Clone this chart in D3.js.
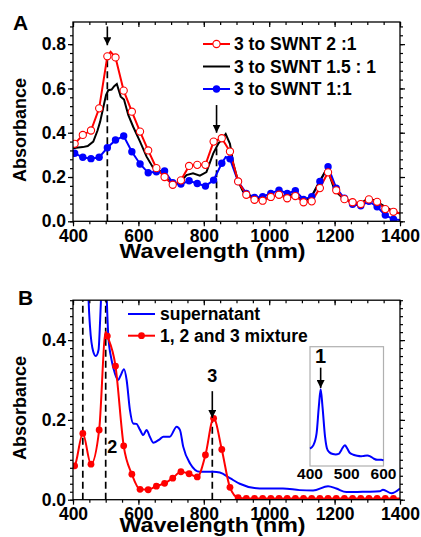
<!DOCTYPE html>
<html>
<head>
<meta charset="utf-8">
<script src="https://cdn.jsdelivr.net/npm/d3@7"></script>
<style>
  body { margin: 0; background: #fff; }
  text { font-family: "Liberation Sans", Arial, sans-serif; font-weight: bold; }
</style>
</head>
<body>
<svg id="fig" width="421" height="537"></svg>
<script>

// ---- panel A data: [wavelength nm, absorbance] ----
// markers sit on the 405 + 25k points, the others are line only
const ratio2to1 = [
  [400, 0.34], [405, 0.35], [430, 0.39], [455, 0.41], [480, 0.51], [505, 0.745], [515, 0.765],
  [530, 0.74], [555, 0.59], [580, 0.495], [605, 0.405], [630, 0.32], [655, 0.24], [680, 0.20],
  [705, 0.165], [730, 0.185], [755, 0.25], [780, 0.255], [805, 0.255], [830, 0.36], [855, 0.375],
  [880, 0.315], [905, 0.18], [930, 0.12], [955, 0.097], [980, 0.093], [1005, 0.11], [1030, 0.12],
  [1055, 0.104], [1080, 0.114], [1105, 0.086], [1130, 0.09], [1155, 0.15], [1180, 0.221],
  [1205, 0.14], [1230, 0.10], [1255, 0.086], [1280, 0.078], [1305, 0.099], [1330, 0.088],
  [1355, 0.055], [1380, 0.043], [1400, 0.036]
]

const ratio15to1 = [
  [400, 0.33], [416, 0.333], [430, 0.335], [445, 0.34], [462, 0.36], [475, 0.41], [483, 0.45],
  [495, 0.53], [501, 0.57], [508, 0.592], [518, 0.595], [526, 0.61], [534, 0.62], [546, 0.563],
  [556, 0.55], [569, 0.48], [584, 0.427], [605, 0.36], [625, 0.292], [646, 0.24], [667, 0.226],
  [686, 0.194], [706, 0.167], [727, 0.175], [747, 0.209], [767, 0.217], [788, 0.206], [808, 0.222],
  [829, 0.307], [845, 0.352], [855, 0.37], [867, 0.394], [880, 0.35], [890, 0.262], [905, 0.18],
  [920, 0.134], [946, 0.11], [975, 0.1], [1000, 0.105], [1028, 0.12], [1050, 0.11], [1075, 0.125],
  [1100, 0.095], [1125, 0.1], [1150, 0.17], [1177, 0.24], [1200, 0.14], [1225, 0.105], [1250, 0.09],
  [1278, 0.08], [1300, 0.1], [1322, 0.095], [1350, 0.07], [1380, 0.045], [1400, 0.035]
]

const ratio1to1 = [
  [400, 0.305], [405, 0.307], [430, 0.289], [455, 0.283], [480, 0.289], [505, 0.332], [530, 0.367],
  [555, 0.385], [580, 0.314], [605, 0.259], [630, 0.219], [655, 0.224], [680, 0.227], [705, 0.174],
  [730, 0.168], [755, 0.183], [780, 0.171], [805, 0.159], [830, 0.186], [855, 0.262], [867, 0.29],
  [880, 0.282], [905, 0.18], [930, 0.126], [955, 0.108], [980, 0.111], [1005, 0.126], [1030, 0.141],
  [1055, 0.126], [1080, 0.138], [1105, 0.099], [1130, 0.111], [1155, 0.18], [1180, 0.246],
  [1205, 0.15], [1230, 0.104], [1255, 0.077], [1280, 0.07], [1305, 0.09], [1330, 0.066],
  [1355, 0.028], [1380, 0.009], [1400, 0.006]
]

const legendA = ["3 to SWNT 2 :1", "3 to SWNT 1.5 : 1", "3 to SWNT 1:1"]

// ---- panel B data ----
const supernatant = [
  [400, 0.54], [409, 0.64], [418, 1.02], [424, 1.84], [429, 2.38], [434, 1.84], [441, 0.9],
  [446, 0.55], [452, 0.434], [462, 0.371], [470, 0.36], [478, 0.375], [483, 0.45], [488, 0.55],
  [495, 0.64], [501, 0.55], [508, 0.41], [518, 0.35], [528, 0.317], [538, 0.30], [545, 0.31],
  [556, 0.327], [564, 0.30], [574, 0.225], [584, 0.191], [594, 0.19], [605, 0.175], [615, 0.162],
  [625, 0.175], [635, 0.158], [646, 0.143], [666, 0.152], [676, 0.158], [696, 0.158], [717, 0.183],
  [727, 0.175], [737, 0.133], [758, 0.091], [788, 0.07], [829, 0.07], [849, 0.068], [880, 0.054],
  [910, 0.04], [971, 0.028], [1042, 0.028], [1093, 0.024], [1134, 0.023], [1180, 0.034],
  [1205, 0.028], [1236, 0.019], [1297, 0.02], [1338, 0.021], [1348, 0.025], [1374, 0.016], [1400, 0.028]
]

const mixture = [
  [400, 0.083], [405, 0.085], [430, 0.166], [455, 0.089], [480, 0.175], [500, 0.42], [505, 0.41],
  [530, 0.335], [555, 0.135], [580, 0.064], [605, 0.026], [630, 0.025], [655, 0.034], [680, 0.041],
  [705, 0.054], [730, 0.07], [755, 0.065], [780, 0.057], [805, 0.112], [830, 0.204], [855, 0.126],
  [880, 0.031], [905, 0.005], [930, 0.003], [955, 0.003], [980, 0.003], [1005, 0.003], [1030, 0.003],
  [1055, 0.003], [1080, 0.003], [1105, 0.003], [1130, 0.003], [1155, 0.003], [1180, 0.003],
  [1205, 0.003], [1230, 0.003], [1255, 0.003], [1280, 0.003], [1305, 0.003], [1330, 0.003],
  [1355, 0.003], [1380, 0.003], [1400, 0.003]
]

const legendB = ["supernatant", "1, 2 and 3 mixture"]

// ticks
const xMajor = [400, 600, 800, 1000, 1200, 1400]
const xMinor = d3.range(400, 1401, 50)
const yMajorA = [0, 0.2, 0.4, 0.6, 0.8]
const yMinorA = d3.range(0, 0.901, 0.04)
const yMajorB = [0, 0.2, 0.4]
const yMinorB = d3.range(0, 0.501, 0.02)
const insetTicks = [400, 500, 600]

// annotations (wavelength, absorbance)
const dashesA = [[505, 0.75], [839, 0.37]]
const arrowsA = [[505, 0.88, 0.795], [839, 0.525, 0.40]]
const dashesB = [[430, 0.5], [500, 0.5], [826, 0.2]]

const isMarker = d => (d[0] - 405) % 25 === 0

const svg = d3.select("#fig")
svg.append("rect").attr("width", 421).attr("height", 537).attr("fill", "#fff")

svg.append("defs").append("marker")
    .attr("id", "head")
    .attr("markerUnits", "userSpaceOnUse")
    .attr("viewBox", "0 0 10 10")
    .attr("refX", 10).attr("refY", 5)
    .attr("markerWidth", 8).attr("markerHeight", 8)
    .attr("orient", "auto")
  .append("path")
    .attr("d", "M0,0 L10,5 L0,10 z")
    .attr("fill", "#000")

// draws the box, ticks on 4 sides, labels
function frame (g, x, y, yMajor, yMinor) {
  const [x0, x1] = x.range()
  const [y0, y1] = y.range()

  const bottom = g.append("g").attr("transform", `translate(0,${y0})`)
  bottom.call(d3.axisBottom(x).tickValues(xMinor).tickSize(3).tickFormat(""))
  bottom.append("g").call(d3.axisBottom(x).tickValues(xMajor).tickSize(5).tickPadding(3).tickFormat(d3.format("d")))

  const top = g.append("g").attr("transform", `translate(0,${y1})`)
  top.call(d3.axisBottom(x).tickValues(xMinor).tickSize(3).tickFormat(""))
  top.append("g").call(d3.axisBottom(x).tickValues(xMajor).tickSize(5).tickFormat(""))

  const left = g.append("g").attr("transform", `translate(${x0},0)`)
  left.call(d3.axisLeft(y).tickValues(yMinor).tickSize(3).tickFormat(""))
  left.append("g").call(d3.axisLeft(y).tickValues(yMajor).tickSize(5).tickPadding(2).tickFormat(d3.format(".1f")))

  const right = g.append("g").attr("transform", `translate(${x1},0)`)
  right.call(d3.axisLeft(y).tickValues(yMinor).tickSize(-3).tickFormat(""))
  right.append("g").call(d3.axisLeft(y).tickValues(yMajor).tickSize(-5).tickFormat(""))

  g.selectAll(".domain").remove()
  g.selectAll(".tick line").attr("stroke", "#000").attr("stroke-width", 1.2)
  g.selectAll(".tick text")
    .attr("fill", "#000")
    .style("font-size", "17.5px")
    .style("font-family", "Liberation Sans, Arial, sans-serif")
    .style("font-weight", "bold")

  g.append("rect")
    .attr("x", x0).attr("y", y1)
    .attr("width", x1 - x0).attr("height", y0 - y1)
    .attr("fill", "none").attr("stroke", "#000").attr("stroke-width", 1.3)
}

function titles (g, x, letter, letterPos, yTitleMid, titleY) {
  const [x0, x1] = x.range()
  g.append("text")
    .attr("x", letterPos[0]).attr("y", letterPos[1])
    .style("font-size", "21px").text(letter)
  g.append("text")
    .attr("transform", `translate(26,${yTitleMid}) rotate(-90)`)
    .attr("text-anchor", "middle")
    .style("font-size", "18px").text("Absorbance")
  g.append("text")
    .attr("x", (x0 + x1) / 2 - 24).attr("y", titleY)
    .attr("textLength", 186).attr("lengthAdjust", "spacingAndGlyphs")
    .attr("text-anchor", "middle")
    .style("font-size", "20px").text("Wavelength (nm)")
}

function clip (id, x, y) {
  const [x0, x1] = x.range()
  const [y0, y1] = y.range()
  svg.select("defs").append("clipPath").attr("id", id)
    .append("rect").attr("x", x0).attr("y", y1).attr("width", x1 - x0).attr("height", y0 - y1)
}

// ================= Panel A =================
const xA = d3.scaleLinear().domain([400, 1400]).range([73, 400])
const yA = d3.scaleLinear().domain([0, 0.9]).range([221.3, 22])
clip("clipA", xA, yA)

const gA = svg.append("g")

// dashed guides + arrows
gA.append("g").selectAll("line")
  .data(dashesA)
  .join("line")
    .attr("x1", d => xA(d[0])).attr("x2", d => xA(d[0]))
    .attr("y1", yA(0)).attr("y2", d => yA(d[1]))
    .attr("stroke", "#000").attr("stroke-width", 1.7).attr("stroke-dasharray", "7,4")

const lineA = d3.line().x(d => xA(d[0])).y(d => yA(d[1]))
const plotA = gA.append("g").attr("clip-path", "url(#clipA)")

plotA.append("path").datum(ratio1to1)
  .attr("d", lineA).attr("fill", "none").attr("stroke", "#0000ff").attr("stroke-width", 2)
plotA.append("path").datum(ratio15to1)
  .attr("d", lineA).attr("fill", "none").attr("stroke", "#000").attr("stroke-width", 2)
plotA.append("path").datum(ratio2to1)
  .attr("d", lineA).attr("fill", "none").attr("stroke", "#ff0000").attr("stroke-width", 2)

plotA.append("g").selectAll("circle")
  .data(ratio1to1.filter(isMarker))
  .join("circle")
    .attr("cx", d => xA(d[0])).attr("cy", d => yA(d[1])).attr("r", 3.7)
    .attr("fill", "#0000ff")

plotA.append("g").selectAll("circle")
  .data(ratio2to1.filter(isMarker))
  .join("circle")
    .attr("cx", d => xA(d[0])).attr("cy", d => yA(d[1])).attr("r", 3.6)
    .attr("fill", "#fff").attr("stroke", "#ff0000").attr("stroke-width", 1.1)

gA.append("g").selectAll("line")
  .data(arrowsA)
  .join("line")
    .attr("x1", d => xA(d[0])).attr("x2", d => xA(d[0]))
    .attr("y1", d => yA(d[1])).attr("y2", d => yA(d[2]))
    .attr("stroke", "#000").attr("stroke-width", 1.6)
    .attr("marker-end", "url(#head)")

frame(gA, xA, yA, yMajorA, yMinorA)
titles(gA, xA, "A", [13, 30], 130, 258)

// legend A
const legA = gA.append("g")
const legRowsA = [44, 66.5, 89]
const colorsA = ["#ff0000", "#000", "#0000ff"]
legA.selectAll("line")
  .data(legendA)
  .join("line")
    .attr("x1", 203).attr("x2", 230)
    .attr("y1", (d, i) => legRowsA[i]).attr("y2", (d, i) => legRowsA[i])
    .attr("stroke", (d, i) => colorsA[i]).attr("stroke-width", 2)
legA.append("circle").attr("cx", 216.5).attr("cy", legRowsA[0]).attr("r", 3.6)
  .attr("fill", "#fff").attr("stroke", "#ff0000").attr("stroke-width", 1.1)
legA.append("circle").attr("cx", 216.5).attr("cy", legRowsA[2]).attr("r", 3.7)
  .attr("fill", "#0000ff")
legA.selectAll("text")
  .data(legendA)
  .join("text")
    .attr("x", 234).attr("y", (d, i) => legRowsA[i] + 6)
    .style("font-size", "17.5px")
    .text(d => d)

// ================= Panel B =================
const xB = d3.scaleLinear().domain([400, 1400]).range([73, 400])
const yB = d3.scaleLinear().domain([0, 0.5]).range([499.7, 300.2])
clip("clipB", xB, yB)

const gB = svg.append("g")

gB.append("g").selectAll("line")
  .data(dashesB)
  .join("line")
    .attr("x1", d => xB(d[0])).attr("x2", d => xB(d[0]))
    .attr("y1", yB(0)).attr("y2", d => yB(d[1]))
    .attr("stroke", "#000").attr("stroke-width", 1.7).attr("stroke-dasharray", "7,4")

const lineB = d3.line().x(d => xB(d[0])).y(d => yB(d[1])).curve(d3.curveMonotoneX)
const plotB = gB.append("g").attr("clip-path", "url(#clipB)")

plotB.append("path").datum(supernatant)
  .attr("d", lineB).attr("fill", "none").attr("stroke", "#0000ff").attr("stroke-width", 2)
plotB.append("path").datum(mixture)
  .attr("d", lineB).attr("fill", "none").attr("stroke", "#ff0000").attr("stroke-width", 2)
plotB.append("g").selectAll("circle")
  .data(mixture.filter(isMarker))
  .join("circle")
    .attr("cx", d => xB(d[0])).attr("cy", d => yB(d[1])).attr("r", 3.4)
    .attr("fill", "#ff0000")

// peak labels
gB.append("line")
  .attr("x1", xB(826)).attr("x2", xB(826))
  .attr("y1", yB(0.272)).attr("y2", yB(0.205))
  .attr("stroke", "#000").attr("stroke-width", 1.6)
  .attr("marker-end", "url(#head)")
gB.append("text").attr("x", xB(826)).attr("y", yB(0.296))
  .attr("text-anchor", "middle").style("font-size", "18px").text("3")
gB.append("text").attr("x", xB(520)).attr("y", yB(0.118))
  .attr("text-anchor", "middle").style("font-size", "18px").text("2")

frame(gB, xB, yB, yMajorB, yMinorB)
titles(gB, xB, "B", [18, 305], 408, 532)

// legend B
const legRowsB = [314, 335.7]
const colorsB = ["#0000ff", "#ff0000"]
const legB = gB.append("g")
legB.selectAll("line")
  .data(legendB)
  .join("line")
    .attr("x1", 128).attr("x2", 155)
    .attr("y1", (d, i) => legRowsB[i]).attr("y2", (d, i) => legRowsB[i])
    .attr("stroke", (d, i) => colorsB[i]).attr("stroke-width", 2)
legB.append("circle").attr("cx", 141.5).attr("cy", legRowsB[1]).attr("r", 3.4).attr("fill", "#ff0000")
legB.selectAll("text")
  .data(legendB)
  .join("text")
    .attr("x", 160).attr("y", (d, i) => legRowsB[i] + 6)
    .style("font-size", "17.5px")
    .text(d => d)

// inset
const xIn = d3.scaleLinear().domain([400, 600]).range([310, 383.5])
const yIn = d3.scaleLinear().domain([0, 3.7]).range([466, 346.7])
const gIn = gB.append("g")
gIn.append("rect")
  .attr("x", 310).attr("y", 346.7).attr("width", 73.5).attr("height", 119.3)
  .attr("fill", "#fff").attr("stroke", "#b0b0b0").attr("stroke-width", 1.2)
gIn.append("path").datum(supernatant.filter(d => d[0] <= 600).concat([[600, 0.175]]))
  .attr("d", d3.line().x(d => xIn(d[0])).y(d => yIn(d[1])).curve(d3.curveMonotoneX))
  .attr("fill", "none").attr("stroke", "#0000ff").attr("stroke-width", 2)
gIn.selectAll(".inlab")
  .data(insetTicks)
  .join("text")
    .attr("x", d => xIn(d)).attr("y", 479)
    .attr("text-anchor", "middle")
    .style("font-size", "15.5px")
    .text(d => d)
gIn.append("line")
  .attr("x1", xIn(429)).attr("x2", xIn(429))
  .attr("y1", yIn(3.05)).attr("y2", yIn(2.42))
  .attr("stroke", "#000").attr("stroke-width", 1.6)
  .attr("marker-end", "url(#head)")
gIn.append("text").attr("x", xIn(429)).attr("y", yIn(3.2))
  .attr("text-anchor", "middle").style("font-size", "20px").text("1")

</script>
</body>
</html>
